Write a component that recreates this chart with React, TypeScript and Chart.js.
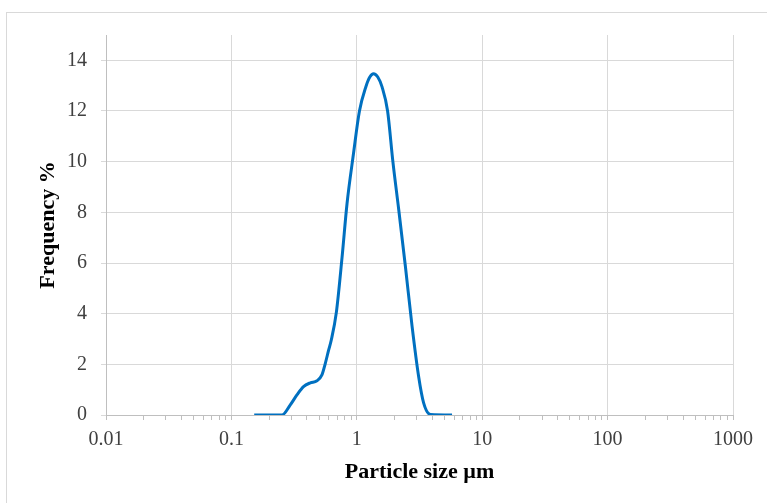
import React, { useEffect, useRef } from "react";
import { Chart, registerables } from "chart.js";

Chart.register(...registerables);

const sizes = [0.152, 0.253, 0.294, 0.333, 0.376, 0.426, 0.481, 0.527, 0.561, 0.596, 0.626, 0.686, 0.762, 0.836, 0.94, 1.05, 1.18, 1.27, 1.36, 1.47, 1.59, 1.76, 1.94, 2.16, 2.44, 2.76, 3.11, 3.41, 3.86, 5.75];
const frequency = [0, 0, 0.39, 0.79, 1.12, 1.27, 1.35, 1.58, 2.04, 2.56, 2.96, 4.03, 6.2, 8.35, 10.3, 12.0, 12.95, 13.34, 13.47, 13.34, 12.95, 12.0, 10.0, 8.1, 5.87, 3.5, 1.53, 0.48, 0.02, 0];

const xTickLabels = ["0.01", "0.1", "1", "10", "100", "1000"];
const minorMultipliers = [1, 2, 3, 4, 5, 6, 7, 8, 9];
const yTicks = [0, 2, 4, 6, 8, 10, 12, 14];

const FONT = "'Liberation Serif', 'Times New Roman', serif";

export default function App() {
  const ref = useRef<HTMLCanvasElement>(null);
  useEffect(() => {
    const canvas = ref.current;
    if (!canvas) return;
    const decades = xTickLabels.map(Number);
    const isDecade = (v: number) => decades.some((d) => Math.abs(v / d - 1) < 1e-6);
    const chart = new Chart(canvas, {
      type: "line",
      data: {
        datasets: [
          {
            data: sizes.map((x, i) => ({ x, y: frequency[i] })),
            borderColor: "#0070C0",
            borderWidth: 3,
            pointRadius: 0,
            cubicInterpolationMode: "monotone",
            fill: false,
          },
        ],
      },
      options: {
        animation: false,
        responsive: false,
        devicePixelRatio: 1,
        layout: { padding: { top: 35, right: 34, left: 0, bottom: 0 } },
        plugins: { legend: { display: false }, tooltip: { enabled: false } },
        scales: {
          x: {
            type: "logarithmic",
            min: 0.01,
            max: 1000,
            afterFit: (s: any) => {
              s.height = 88;
            },
            afterBuildTicks: (s: any) => {
              const t: any[] = [];
              decades.forEach((d, i) => {
                if (i === decades.length - 1) {
                  t.push({ value: d });
                } else {
                  minorMultipliers.forEach((m) => t.push({ value: d * m }));
                }
              });
              s.ticks = t;
            },
            ticks: {
              autoSkip: false,
              maxRotation: 0,
              padding: 8,
              color: "#404040",
              font: { family: FONT, size: 20 },
              callback: (v: any) => {
                const n = Number(v);
                const idx = decades.findIndex((d) => Math.abs(n / d - 1) < 1e-6);
                return idx >= 0 ? xTickLabels[idx] : "";
              },
            },
            grid: {
              color: (ctx: any) => (ctx.tick && isDecade(ctx.tick.value) ? "#d9d9d9" : "rgba(0,0,0,0)"),
              tickColor: "#bfbfbf",
              tickLength: 5,
              lineWidth: 1,
            },
            border: { display: true, color: "#bfbfbf", width: 1 },
            title: {
              display: true,
              text: "Particle size µm",
              color: "#000",
              font: { family: FONT, size: 22, weight: "bold" },
              padding: { top: 0, bottom: 17 },
            },
          },
          y: {
            min: 0,
            max: 15,
            afterFit: (s: any) => {
              s.width = 106;
            },
            afterBuildTicks: (s: any) => {
              s.ticks = yTicks.map((v) => ({ value: v }));
            },
            ticks: {
              padding: 14,
              color: "#404040",
              font: { family: FONT, size: 20 },
            },
            grid: { color: "#d9d9d9", tickColor: "#d9d9d9", tickLength: 5, lineWidth: 1 },
            border: { display: true, color: "#bfbfbf", width: 1 },
            title: {
              display: true,
              text: "Frequency %",
              color: "#000",
              font: { family: FONT, size: 22, weight: "bold" },
              padding: { top: 35, bottom: 0 },
            },
          },
        },
      },
    } as any);
    return () => chart.destroy();
  }, []);

  return (
    <div style={{ position: "absolute", left: 0, top: 0, width: 767, height: 503, overflow: "hidden", background: "#fff" }}>
      <div
        style={{
          position: "absolute",
          left: 6,
          top: 12,
          width: 900,
          height: 700,
          border: "1px solid #d9d9d9",
          boxSizing: "border-box",
        }}
      />
      <canvas ref={ref} width={767} height={503} style={{ position: "absolute", left: 0, top: 0 }} />
    </div>
  );
}
